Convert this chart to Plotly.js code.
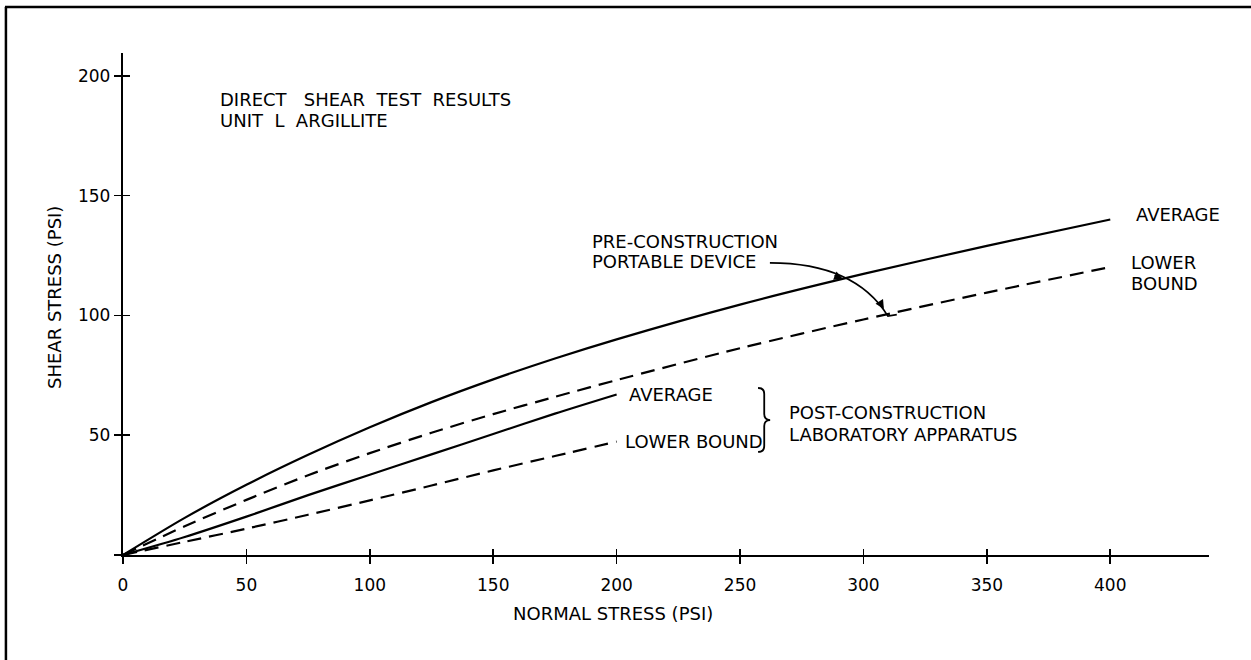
<!DOCTYPE html>
<html>
<head>
<meta charset="utf-8">
<script src="https://cdn.plot.ly/plotly-3.0.1.min.js"></script>
<style>html,body{margin:0;padding:0;background:#fff;}#chart{width:1251px;height:660px;}</style>
</head>
<body>
<div id="chart"></div>
<script>
// ---- data ----
const xTicks = [0, 50, 100, 150, 200, 250, 300, 350, 400];
const yTicks = [0, 50, 100, 150, 200];

const preAvgX   = [0, 25, 50, 75, 100, 125, 150, 175, 200, 250, 300, 350, 400];
const preAvgY   = [0, 15.5, 29.3, 41.8, 53.3, 63.8, 73.3, 82, 90, 104.5, 117.3, 129, 140];

const preLowX   = [0, 25, 50, 75, 100, 125, 150, 175, 200, 250, 300, 350, 400];
const preLowY   = [0, 12, 23, 33.3, 42.5, 51, 58.8, 66, 73, 86.3, 98.3, 109.5, 120.2];

const postAvgX  = [0, 25, 50, 75, 100, 125, 150, 175, 200];
const postAvgY  = [0, 7.5, 16, 25, 33.5, 42, 50.5, 59, 67];

const postLowX  = [0, 25, 50, 75, 100, 125, 150, 175, 200];
const postLowY  = [0, 5.5, 11, 16.8, 22.8, 29, 35.3, 41.3, 47.3];

const FONT = "DejaVu Sans, Liberation Sans, sans-serif";
const BLACK = "#000";
const NB = "\u00a0";

const traces = [
  {x: preAvgX, y: preAvgY, mode: "lines", line: {color: BLACK, width: 2.2, shape: "spline", smoothing: 0.8}},
  {x: preLowX, y: preLowY, mode: "lines", line: {color: BLACK, width: 2.2, dash: "14px,8px", shape: "spline", smoothing: 0.8}},
  {x: postAvgX, y: postAvgY, mode: "lines", line: {color: BLACK, width: 2.2, shape: "spline", smoothing: 0.8}},
  {x: postLowX, y: postLowY, mode: "lines", line: {color: BLACK, width: 2.2, dash: "14px,8px", shape: "spline", smoothing: 0.8}}
];

function txt(x, y, t, opts) {
  return Object.assign({x: x, y: y, xref: "x", yref: "y", text: t, showarrow: false,
    xanchor: "left", yanchor: "middle", font: {family: FONT, size: 18, color: BLACK}}, opts || {});
}
function head(x, y, ax, ay) {
  return {x: x, y: y, xref: "x", yref: "y", ax: ax, ay: ay, text: "", showarrow: true,
    arrowhead: 2, arrowsize: 1.1, arrowwidth: 1.6, arrowcolor: BLACK};
}

const annotations = [
  txt(38.5, 190.3, "DIRECT" + NB + NB + NB + "SHEAR" + NB + NB + "TEST" + NB + NB + "RESULTS"),
  txt(38.5, 181.5, "UNIT" + NB + NB + "L" + NB + NB + "ARGILLITE"),
  txt(189.2, 131.0, "PRE-CONSTRUCTION"),
  txt(189.2, 122.3, "PORTABLE DEVICE"),
  txt(409.6, 141.9, "AVERAGE"),
  txt(407.6, 121.9, "LOWER"),
  txt(407.6, 113.5, "BOUND"),
  txt(204.2, 66.8, "AVERAGE"),
  txt(202.6, 47.2, "LOWER BOUND"),
  txt(269.0, 59.3, "POST-CONSTRUCTION"),
  txt(269.0, 50.1, "LABORATORY APPARATUS"),
  head(291.7, 115.2, -10, -4),
  head(308.3, 102.7, -5, -8),
  {x: 0.451, y: -0.116, xref: "paper", yref: "paper", text: "NORMAL STRESS (PSI)", showarrow: false,
   xanchor: "center", yanchor: "middle", font: {family: FONT, size: 18, color: BLACK}},
  {x: -0.0626, y: 0.512, xref: "paper", yref: "paper", text: "SHEAR STRESS (PSI)", showarrow: false,
   textangle: -90, xanchor: "center", yanchor: "middle", font: {family: FONT, size: 18, color: BLACK}}
];

const shapes = [
  // leader curve from "PORTABLE DEVICE" to the lower-bound line
  {type: "path", xref: "x", yref: "y",
   path: "M 262.1,121.9 Q 296.6,121.9 309.9,99.7 L 313.5,100.3",
   line: {color: BLACK, width: 1.6}},
  // brace for post-construction
  {type: "path", xref: "x", yref: "y",
   path: "M 257.3,69.7 Q 259.8,69.7 259.8,67.2 L 259.8,58.8 Q 259.8,56.3 262.2,56.3 Q 259.8,56.3 259.8,53.8 L 259.8,45.5 Q 259.8,43 257.3,43",
   line: {color: BLACK, width: 1.8}},
  // page frame (top and left)
  {type: "line", xref: "paper", yref: "paper", x0: -0.1087, x1: 1.039, y0: 1.0916, y1: 1.0916,
   line: {color: BLACK, width: 2.5}},
  {type: "line", xref: "paper", yref: "paper", x0: -0.1078, x1: -0.1078, y0: 1.0916, y1: -0.21,
   line: {color: BLACK, width: 2.5}}
];

const axisCommon = {showgrid: false, zeroline: false, showline: true, linecolor: BLACK, linewidth: 2.2,
  ticks: "outside", ticklen: 7, tickwidth: 1.6, tickcolor: BLACK,
  tickfont: {family: FONT, size: 17, color: BLACK}, fixedrange: true};

const layout = {
  width: 1251, height: 660,
  margin: {l: 123, r: 42, t: 53, b: 105, pad: 0},
  paper_bgcolor: "#fff", plot_bgcolor: "#fff",
  showlegend: false,
  xaxis: Object.assign({}, axisCommon, {range: [0, 440], tickvals: xTicks, ticktext: xTicks.map(String),
    ticklabelstandoff: 6}),
  yaxis: Object.assign({}, axisCommon, {range: [0, 209.5], tickvals: yTicks, ticktext: yTicks.map(v => v === 0 ? "" : String(v))}),
  xaxis2: {overlaying: "x", anchor: "y", side: "bottom", range: [0, 440], tickvals: xTicks,
    showticklabels: false, ticks: "inside", ticklen: 6, tickwidth: 1.6, tickcolor: BLACK,
    showgrid: false, zeroline: false, showline: false, fixedrange: true},
  yaxis2: {overlaying: "y", anchor: "x", side: "left", range: [0, 209.5], tickvals: yTicks.slice(1),
    showticklabels: false, ticks: "inside", ticklen: 7, tickwidth: 1.6, tickcolor: BLACK,
    showgrid: false, zeroline: false, showline: false, fixedrange: true},
  annotations: annotations,
  shapes: shapes
};

// invisible trace to make the overlay axes render
traces.push({x: [0], y: [0], xaxis: "x2", yaxis: "y2", mode: "markers", marker: {opacity: 0}, hoverinfo: "skip"});

Plotly.newPlot("chart", traces, layout, {staticPlot: true, displayModeBar: false});
</script>
</body>
</html>
